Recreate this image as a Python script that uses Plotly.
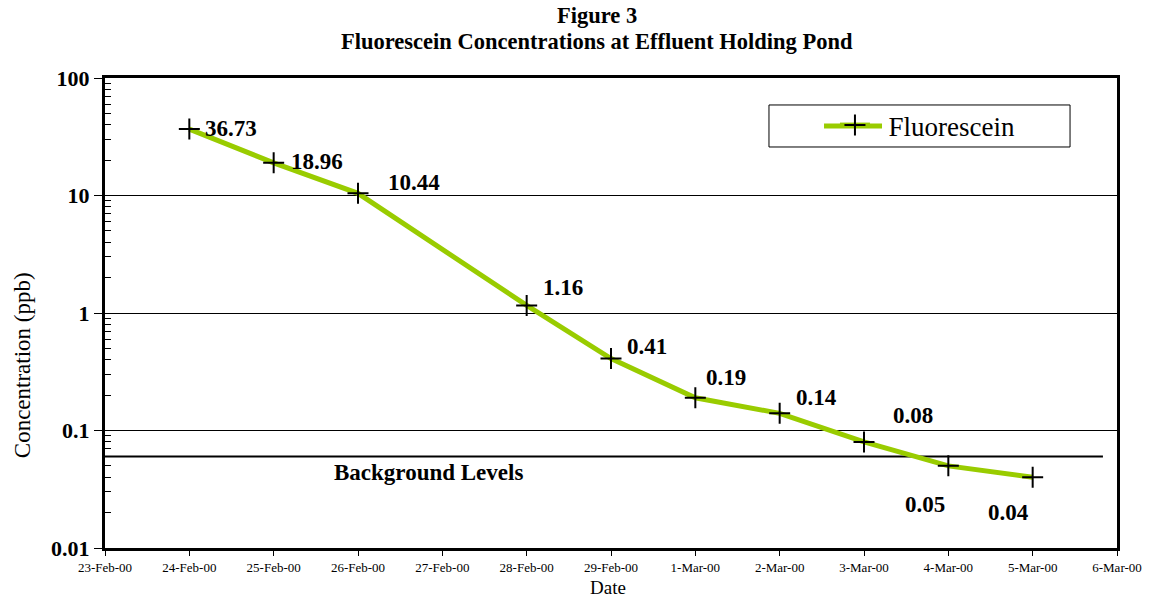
import math
import plotly.graph_objects as go

# Sampling dates and measured fluorescein concentrations (ppb)
dates = ["2000-02-24", "2000-02-25", "2000-02-26", "2000-02-28", "2000-02-29",
         "2000-03-01", "2000-03-02", "2000-03-03", "2000-03-04", "2000-03-05"]
concentration = [36.73, 18.96, 10.44, 1.16, 0.41, 0.19, 0.14, 0.08, 0.05, 0.04]
series_name = "Fluorescein"

# Background level reference
background_level = 0.06
background_span = ["2000-02-23", "2000-03-05 20:00"]
background_label = "Background Levels"
background_label_x = "2000-02-26 20:00"

# Axis settings
x_range = ["2000-02-23", "2000-03-06"]
y_tickvals = [0.01, 0.1, 1, 10, 100]
y_ticktext = ["0.01", "0.1", "1", "10", "100"]
x_title = "Date"
y_title = "Concentration (ppb)"
title_lines = ["Figure 3", "Fluorescein Concentrations at Effluent Holding Pond"]

# Pixel offsets (dx, dy) for each value label
label_offsets = [(42, 1), (43, 1), (56, 11), (36, 18), (36, 12),
                 (31, 20), (37, 16), (49, 26), (-23, -39), (-24, -35)]

FONT = "Liberation Serif, Times New Roman, serif"
GREEN = "#99CC00"

fig = go.Figure()

fig.add_trace(go.Scatter(
    x=background_span, y=[background_level, background_level],
    mode="lines", line=dict(color="black", width=2),
    showlegend=False, hoverinfo="skip"))

fig.add_trace(go.Scatter(
    x=dates, y=concentration, name="\u00a0\u00a0" + series_name,
    mode="lines+markers",
    line=dict(color=GREEN, width=5),
    marker=dict(symbol="cross-thin", size=15, color="black",
                line=dict(color="black", width=2))))

# Overlay axis that only carries the inside minor ticks of the log scale
fig.add_trace(go.Scatter(
    x=[dates[0]], y=[concentration[0]], yaxis="y2", mode="markers",
    marker=dict(opacity=0), showlegend=False, hoverinfo="skip"))

annotations = []
for d, v, (dx, dy) in zip(dates, concentration, label_offsets):
    annotations.append(dict(
        x=d, y=math.log10(v), xref="x", yref="y", text=f"<b>{v:.2f}</b>",
        showarrow=False, xanchor="center", yanchor="middle",
        xshift=dx, yshift=dy, font=dict(family=FONT, size=23, color="black")))

annotations.append(dict(
    x=background_label_x, y=math.log10(background_level), xref="x", yref="y",
    text=f"<b>{background_label}</b>", showarrow=False,
    xanchor="center", yanchor="middle", yshift=-16,
    font=dict(family=FONT, size=23, color="black")))

# Two-line chart heading
for text, ypos in zip(title_lines, [1.1340, 1.0787]):
    annotations.append(dict(
        x=0.4862, y=ypos, xref="paper", yref="paper", text=f"<b>{text}</b>",
        showarrow=False, xanchor="center", yanchor="middle",
        font=dict(family=FONT, size=22.5, color="black")))

# Axis titles
annotations.append(dict(
    x=0.4970, y=-0.0840, xref="paper", yref="paper", text=x_title,
    showarrow=False, xanchor="center", yanchor="middle",
    font=dict(family=FONT, size=19, color="black")))
annotations.append(dict(
    x=-0.082, y=0.389, xref="paper", yref="paper", text=y_title,
    textangle=-90, showarrow=False, xanchor="center", yanchor="middle",
    font=dict(family=FONT, size=23, color="black")))

minor_vals = [m * 10 ** e for e in range(-2, 2) for m in range(2, 10)]

fig.update_layout(
    width=1149, height=599,
    margin=dict(l=105, r=32, t=78, b=51),
    paper_bgcolor="white", plot_bgcolor="white",
    font=dict(family=FONT, color="black"),
    showlegend=True,
    legend=dict(x=0.7213, y=0.951, xanchor="left", yanchor="top",
                bgcolor="rgba(0,0,0,0)", borderwidth=0,
                font=dict(family=FONT, size=27, color="black")),
    annotations=annotations,
    shapes=[
        dict(type="rect", xref="paper", yref="paper",
             x0=0.6561, x1=0.9536, y0=0.8532, y1=0.9426,
             line=dict(color="black", width=1), fillcolor="rgba(0,0,0,0)"),
        dict(type="line", xref="paper", yref="paper",
             x0=0.7105, x1=0.7678, y0=0.8979, y1=0.8979,
             line=dict(color=GREEN, width=5), layer="below"),
    ],
    xaxis=dict(
        type="date", range=x_range, dtick=86400000, tick0="2000-02-23",
        tickformat="%-d-%b-%y", ticks="outside", ticklen=5, tickcolor="black",
        ticklabelstandoff=0,
        tickfont=dict(family=FONT, size=13, color="black"),
        showgrid=False, zeroline=False, automargin=False,
        showline=True, linecolor="black", linewidth=3, mirror=True),
    yaxis=dict(
        type="log", range=[-2, 2], tickvals=y_tickvals,
        ticktext=[f"<b>{t}</b>" for t in y_ticktext],
        ticks="outside", ticklen=8, tickcolor="black",
        tickfont=dict(family=FONT, size=22, color="black"),
        showgrid=True, gridcolor="black", gridwidth=1, zeroline=False,
        automargin=False,
        showline=True, linecolor="black", linewidth=3, mirror=True),
    yaxis2=dict(
        type="log", range=[-2, 2], overlaying="y", side="left",
        tickvals=minor_vals, ticks="inside", ticklen=6, tickcolor="black",
        showticklabels=False, showgrid=False, zeroline=False,
        showline=False, automargin=False, fixedrange=True),
)

fig.write_html("out.html")
